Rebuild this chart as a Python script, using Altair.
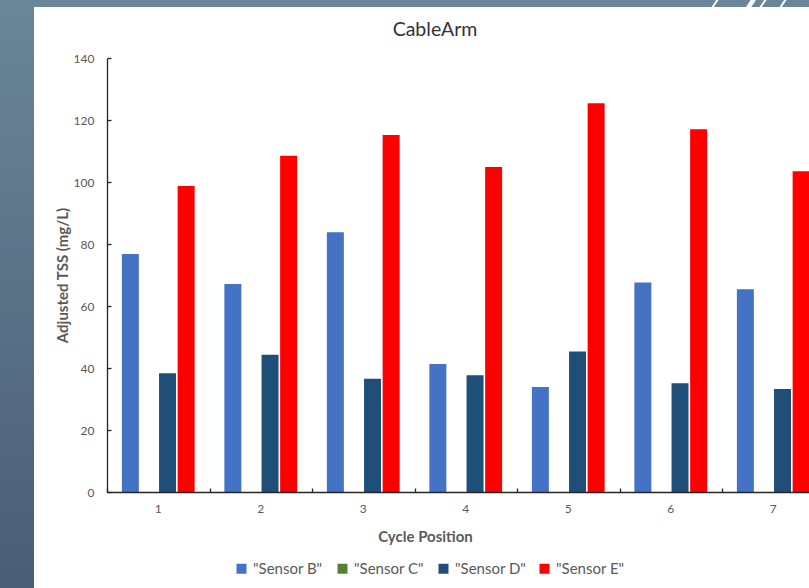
import altair as alt
import pandas as pd

# Adjusted TSS readings per cycle position and sensor
cycle_positions = ["1", "2", "3", "4", "5", "6", "7"]
sensor_names = ['"Sensor B"', '"Sensor C"', '"Sensor D"', '"Sensor E"']
sensor_colors = ["#4472C4", "#548235", "#1F4E79", "#FF0000"]

sensor_b = [76.8, 67.1, 83.8, 41.3, 33.9, 67.6, 65.4]
sensor_c = [None, None, None, None, None, None, None]  # no readings
sensor_d = [38.3, 44.3, 36.5, 37.7, 45.3, 35.1, 33.2]
sensor_e = [98.7, 108.5, 115.2, 104.8, 125.4, 117.0, 103.5]

y_ticks = [0, 20, 40, 60, 80, 100, 120, 140]

rows = []
for name, values in zip(sensor_names, [sensor_b, sensor_c, sensor_d, sensor_e]):
    for pos, v in zip(cycle_positions, values):
        if v is not None:
            rows.append({"cycle": pos, "sensor": name, "tss": v})
df = pd.DataFrame(rows)

W = 702          # visible plot width
FULL_W = 717.5   # the category band continues past the right edge
H = 434
PAD_L, PAD_T, PAD_B = 107, 58, 96
FONT = "Lato"
AXIS_LINE = "#262626"
TEXT_GRAY = "#595959"

x_scale = alt.Scale(domain=cycle_positions, range=[0, FULL_W], paddingInner=0, paddingOuter=0)
y_scale = alt.Scale(domain=[0, 140], nice=False, zero=True)
offset_scale = alt.Scale(domain=sensor_names, paddingInner=0.086, paddingOuter=0.8)
color_scale = alt.Scale(domain=sensor_names, range=sensor_colors)

one_row = alt.Data(values=[{"k": 0}])

# slide background with a vertical gradient
slide = alt.Chart(one_row).mark_rect(
    color={
        "gradient": "linear",
        "x1": 0, "y1": 0, "x2": 0, "y2": 1,
        "stops": [
            {"offset": 0, "color": "#6b8698"},
            {"offset": 1, "color": "#4a5d76"},
        ],
    }
).encode(x=alt.value(-PAD_L), x2=alt.value(W + 5), y=alt.value(-PAD_T), y2=alt.value(H + PAD_B + 5))


def slash(x_bottom, width):
    return alt.Chart(one_row).mark_rule(color="white", strokeWidth=width).encode(
        x=alt.value(x_bottom), x2=alt.value(x_bottom + 6),
        y=alt.value(-50), y2=alt.value(-PAD_T - 1),
    )


slashes = [slash(605, 2), slash(641, 4.5), slash(653, 2), slash(673, 2)]

# white chart panel
panel = alt.Chart(one_row).mark_rect(color="white").encode(
    x=alt.value(-73), x2=alt.value(W + 5), y=alt.value(-51), y2=alt.value(H + PAD_B + 5)
)

title = alt.Chart(one_row).mark_text(
    text="CableArm", font=FONT, fontSize=19.5, color="#333333", align="center", baseline="middle"
).encode(x=alt.value(328), y=alt.value(-28))

bars = alt.Chart(df).mark_bar().encode(
    x=alt.X(
        "cycle:N", scale=x_scale,
        axis=alt.Axis(
            orient="bottom", title="Cycle Position", labelAngle=0, ticks=False,
            domainColor=AXIS_LINE, domainWidth=1.3, grid=False,
            labelFont=FONT, labelFontSize=12, labelColor=TEXT_GRAY, labelPadding=11,
            titleFont=FONT, titleFontSize=15, titleFontWeight="bold", titleColor=TEXT_GRAY,
            titleX=318, titleY=44, titleAlign="center", titleBaseline="middle", zindex=1,
        ),
    ),
    xOffset=alt.XOffset("sensor:N", scale=offset_scale),
    y=alt.Y(
        "tss:Q", scale=y_scale,
        axis=alt.Axis(
            orient="left", title="Adjusted TSS (mg/L)", values=y_ticks, ticks=False,
            domainColor=AXIS_LINE, domainWidth=1.3, grid=False,
            labelFont=FONT, labelFontSize=12, labelColor=TEXT_GRAY, labelPadding=13,
            titleFont=FONT, titleFontSize=15, titleFontWeight="bold", titleColor=TEXT_GRAY,
            titleX=-45, titleY=H / 2, titleAngle=270, titleAlign="center", titleBaseline="middle",
            zindex=1,
        ),
    ),
    color=alt.Color(
        "sensor:N", scale=color_scale,
        legend=alt.Legend(
            title=None, orient="none", legendX=127, legendY=503, direction="horizontal",
            columns=4, gridAlign="all",
            symbolType="square", symbolSize=100, symbolStrokeWidth=0,
            labelFont=FONT, labelFontSize=15, labelColor=TEXT_GRAY, labelOffset=4,
            columnPadding=10, padding=0, zindex=1,
        ),
    ),
)

# inward tick marks: axes moved onto the opposite plot edges
inner_ticks = alt.Chart(df).mark_bar(opacity=0).encode(
    x=alt.X(
        "cycle:N", scale=x_scale,
        axis=alt.Axis(
            orient="top", offset=-H, labels=False, domain=False, title=None, grid=False,
            ticks=True, tickSize=4, tickColor=AXIS_LINE, tickWidth=1.3, tickBand="extent", zindex=1,
        ),
    ),
    y=alt.Y(
        "tss:Q", scale=y_scale,
        axis=alt.Axis(
            orient="right", offset=-W, values=y_ticks, labels=False, domain=False, title=None,
            grid=False, ticks=True, tickSize=4, tickColor=AXIS_LINE, tickWidth=1.3, zindex=1,
        ),
    ),
)

chart = alt.layer(slide, *slashes, panel, title, bars, inner_ticks).resolve_axis(
    x="independent", y="independent"
).properties(
    width=W,
    height=H,
    padding={"left": PAD_L, "top": PAD_T, "right": 0, "bottom": PAD_B},
    autosize=alt.AutoSizeParams(type="none"),
    background="#5f7a8e",
).configure_view(stroke=None)

chart.save("out.html", embed_options={"renderer": "svg", "actions": False})
